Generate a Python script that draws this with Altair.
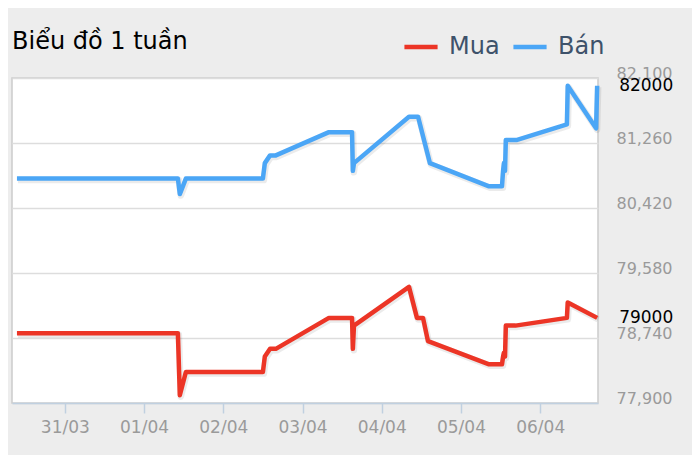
import altair as alt
import pandas as pd

# "Bán" (sell) series, blue
ban_time = [
    "2024-03-30T09:30", "2024-04-01T10:15", "2024-04-01T10:50", "2024-04-01T12:40",
    "2024-04-02T12:00", "2024-04-02T12:35", "2024-04-02T14:10", "2024-04-02T15:55",
    "2024-04-03T08:00", "2024-04-03T15:00", "2024-04-03T15:15", "2024-04-03T15:35",
    "2024-04-04T08:15", "2024-04-04T11:00", "2024-04-04T14:35",
    "2024-04-05T08:30", "2024-04-05T12:25", "2024-04-05T12:45", "2024-04-05T13:00",
    "2024-04-05T13:20", "2024-04-05T13:35", "2024-04-05T17:00",
    "2024-04-06T08:05", "2024-04-06T08:20", "2024-04-06T16:55", "2024-04-06T17:15",
]
ban_value = [
    80800, 80800, 80600, 80800,
    80800, 81000, 81100, 81100,
    81400, 81400, 80900, 81000,
    81600, 81600, 81000,
    80700, 80700, 80900, 81000,
    80900, 81300, 81300,
    81500, 82000, 81450, 82000,
]

# "Mua" (buy) series, red
mua_time = [
    "2024-03-30T09:30", "2024-04-01T10:15", "2024-04-01T10:50", "2024-04-01T12:40",
    "2024-04-02T12:00", "2024-04-02T12:35", "2024-04-02T14:10", "2024-04-02T15:55",
    "2024-04-03T08:00", "2024-04-03T15:00", "2024-04-03T15:15", "2024-04-03T15:35",
    "2024-04-04T08:15", "2024-04-04T10:40", "2024-04-04T12:30", "2024-04-04T14:00",
    "2024-04-05T08:30", "2024-04-05T12:25", "2024-04-05T12:45", "2024-04-05T13:00",
    "2024-04-05T13:20", "2024-04-05T13:35", "2024-04-05T16:30",
    "2024-04-06T08:05", "2024-04-06T08:20", "2024-04-06T17:15",
]
mua_value = [
    78800, 78800, 78000, 78300,
    78300, 78500, 78600, 78600,
    79000, 79000, 78600, 78900,
    79400, 79000, 79000, 78700,
    78400, 78400, 78500, 78550,
    78500, 78900, 78900,
    79000, 79200, 79000,
]

series_names = ["Mua", "Bán"]
series_colors = ["#ec3526", "#4ba6f6"]
tick_days = ["2024-03-31", "2024-04-01", "2024-04-02", "2024-04-03",
             "2024-04-04", "2024-04-05", "2024-04-06"]
y_ticks = [77900, 78740, 79580, 80420, 81260, 82100]
x_start = "2024-03-30T08:00"
x_end = "2024-04-06T17:30"

FONT = "DejaVu Sans"
W, H = 586, 325


def to_dt(s):
    d, _, t = s.partition("T")
    y, m, dd = (int(v) for v in d.split("-"))
    hh, mm = (int(v) for v in t.split(":")) if t else (0, 0)
    return alt.DateTime(year=y, month=m, date=dd, hours=hh, minutes=mm, utc=True)


rows = []
for name, times, values in [("Mua", mua_time, mua_value), ("Bán", ban_time, ban_value)]:
    for i, (t, v) in enumerate(zip(times, values)):
        rows.append({"series": name, "time": t + ":00Z", "price": v, "idx": i})
df = pd.DataFrame(rows)

# current price labels at the right end of each line
last = pd.DataFrame({
    "series": ["Bán", "Mua"],
    "time": [ban_time[-1] + ":00Z", mua_time[-1] + ":00Z"],
    "price": [ban_value[-1], mua_value[-1]],
})
last["label"] = last["price"].astype(str)

x_enc = alt.X(
    "time:T",
    title=None,
    scale=alt.Scale(type="utc", domain=[to_dt(x_start), to_dt(x_end)]),
    axis=alt.Axis(
        values=[to_dt(d) for d in tick_days],
        format="%d/%m",
        grid=False,
        domainColor="#c0d0e0",
        domainWidth=1.5,
        tickColor="#c0d0e0",
        tickWidth=1.5,
        tickSize=10,
        labelPadding=6,
        labelColor="#9a9a9a",
        labelFontSize=17,
        labelFont=FONT,
    ),
)
y_enc = alt.Y(
    "price:Q",
    title=None,
    scale=alt.Scale(domain=[y_ticks[0], y_ticks[-1]], nice=False, zero=False),
    axis=alt.Axis(
        orient="right",
        values=y_ticks,
        format=",d",
        ticks=False,
        domain=False,
        grid=True,
        gridColor="#dddddd",
        gridWidth=1.5,
        labelAlign="left",
        labelBaseline="alphabetic",
        labelPadding=18,
        labelColor="#9a9a9a",
        labelFontSize=16,
        labelFont=FONT,
    ),
)

base = alt.Chart(df).encode(x=x_enc, y=y_enc, order="idx:Q")

shadow = base.mark_line(
    strokeWidth=6.5, color="black", opacity=0.08, xOffset=1, yOffset=1.5, strokeJoin="round"
).encode(detail="series:N")

lines = base.mark_line(strokeWidth=4.5, strokeJoin="round").encode(
    color=alt.Color(
        "series:N",
        scale=alt.Scale(domain=series_names, range=series_colors),
        legend=alt.Legend(
            title=None,
            orient="none",
            legendX=390,
            legendY=-50,
            direction="horizontal",
            symbolType="stroke",
            symbolStrokeWidth=4.5,
            symbolSize=1100,
            labelFontSize=24,
            labelFont=FONT,
            labelColor="#3e526a",
            labelOffset=9,
            columnPadding=4,
            padding=0,
        ),
    )
)

labels = alt.Chart(last).mark_text(
    align="left", baseline="middle", dx=22, fontSize=17, font=FONT, color="black"
).encode(x=x_enc, y=y_enc, text="label:N")

chart = (
    alt.layer(shadow, lines, labels)
    .properties(
        width=W,
        height=H,
        padding={"left": 4, "top": 70, "right": 94, "bottom": 52},
        autosize=alt.AutoSizeParams(type="none"),
        background="#ededed",
        title=alt.Title(
            "Biểu đồ 1 tuần",
            anchor="start",
            frame="group",
            font=FONT,
            fontSize=24,
            fontWeight="normal",
            color="black",
            baseline="alphabetic",
            offset=29,
            dy=74,
        ),
    )
    .configure_view(fill="white", stroke="#cccccc", strokeWidth=1.5)
)

chart.save("out.html", embed_options={"renderer": "svg", "actions": False})
